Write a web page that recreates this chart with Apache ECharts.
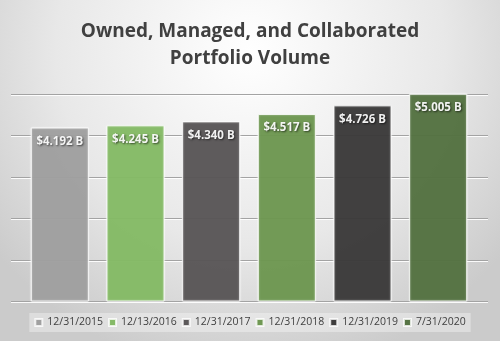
<!DOCTYPE html>
<html>
<head>
<meta charset="utf-8">
<script src="https://cdn.jsdelivr.net/npm/echarts@6/dist/echarts.min.js"></script>
<style>
  html, body { margin: 0; padding: 0; background: #fff; }
  #chart { width: 500px; height: 341px; box-sizing: border-box; }
</style>
</head>
<body>
<div id="chart"></div>
<script>
// Portfolio volume snapshots, in billions of dollars
const dates = ['12/31/2015', '12/13/2016', '12/31/2017', '12/31/2018', '12/31/2019', '7/31/2020'];
const volumes = [4.192, 4.245, 4.340, 4.517, 4.726, 5.005];
const barColors = ['#9b9b9b', '#7fb75f', '#524f50', '#679249', '#333132', '#4c6c39'];
const yTicks = [0, 1, 2, 3, 4, 5];

const chart = echarts.init(document.getElementById('chart'), null, { renderer: 'canvas' });

const plotTop = 94;
const plotBottom = 39.5;

// one series per date so every date gets its own legend entry; stacking keeps each bar full width
const series = dates.map((d, i) => ({
  name: d,
  type: 'bar',
  stack: 'all',
  xAxisIndex: 1,
  yAxisIndex: 1,
  clip: false,
  barCategoryGap: '23.3%',
  data: dates.map((_, j) => (j === i ? volumes[i] : '-')),
  itemStyle: {
    color: barColors[i],
    opacity: 0.93,
    borderColor: 'rgba(255,255,255,0.85)',
    borderWidth: 1,
    shadowColor: 'rgba(255,255,255,0.6)',
    shadowBlur: 2
  },
  label: {
    show: true,
    position: 'insideTop',
    distance: 8,
    formatter: p => '$' + Number(p.value).toFixed(3) + ' B',
    color: '#ffffff',
    fontFamily: 'Open Sans',
    fontWeight: 'bold',
    fontSize: 11.5,
    textShadowColor: 'rgba(0,0,0,0.65)',
    textShadowBlur: 2,
    textShadowOffsetX: 1,
    textShadowOffsetY: 1
  }
}));

chart.setOption({
  animation: false,
  backgroundColor: {
    type: 'radial', x: 0.5, y: 0.15, r: 0.95,
    colorStops: [
      { offset: 0, color: '#ffffff' },
      { offset: 0.6, color: '#e8e8e8' },
      { offset: 1, color: '#cbcbcb' }
    ]
  },
  title: {
    text: 'Owned, Managed, and Collaborated\nPortfolio Volume',
    left: 'center',
    top: 13,
    textStyle: {
      fontFamily: 'Open Sans',
      fontWeight: 'bold',
      fontSize: 19,
      lineHeight: 27,
      color: '#404040'
    }
  },
  legend: {
    data: dates,
    top: 313,
    left: 'center',
    icon: 'rect',
    itemWidth: 7,
    itemHeight: 7,
    itemGap: 5,
    padding: [4, 5],
    backgroundColor: 'rgba(255,255,255,0.35)',
    textStyle: { fontFamily: 'Open Sans', fontSize: 10.5, color: '#404040' }
  },
  grid: [
    { left: 11, right: 12, top: plotTop, bottom: plotBottom },
    { left: 22, right: 24, top: plotTop, bottom: plotBottom }
  ],
  xAxis: [
    { type: 'category', gridIndex: 0, data: dates, show: false },
    { type: 'category', gridIndex: 1, data: dates, show: false }
  ],
  yAxis: [
    {
      type: 'value', gridIndex: 0,
      min: yTicks[0], max: yTicks[yTicks.length - 1], interval: 1,
      axisLabel: { show: false }, axisTick: { show: false }, axisLine: { show: false },
      splitLine: {
        show: true,
        lineStyle: { color: '#a3a3a3', width: 1, shadowColor: 'rgba(255,255,255,0.9)', shadowOffsetY: 1 }
      }
    },
    {
      type: 'value', gridIndex: 1,
      min: yTicks[0], max: yTicks[yTicks.length - 1], interval: 1,
      show: false, splitLine: { show: false }
    }
  ],
  series: series
});
</script>
</body>
</html>
